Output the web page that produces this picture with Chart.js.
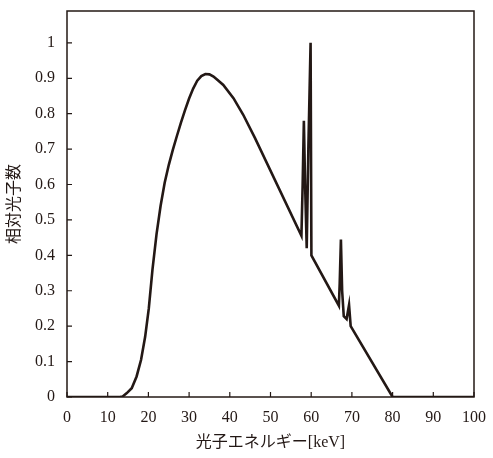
<!DOCTYPE html>
<html>
<head>
<meta charset="utf-8">
<script src="https://cdn.jsdelivr.net/npm/chart.js@4/dist/chart.umd.min.js"></script>
<style>
  html, body { margin: 0; padding: 0; background: #fff; }
  #wrap { width: 493px; height: 458px; }
</style>
</head>
<body>
<div id="wrap"><canvas id="spectrum"></canvas></div>
<script>
"use strict";

// photon energy [keV] and relative photon count
var energies = [0, 10, 13, 13.6, 14.7, 15.9, 17.1, 18.2, 19.2, 20.1, 21, 22, 23, 24, 25, 26, 27, 28, 29, 30, 31, 32, 33, 34, 35, 36, 37, 38.4, 40.9, 43.3, 46.2, 57.6,
    57.9, 58.2, 58.5, 58.9, 59.3, 59.85, 60.05, 66.8, 67.0, 67.3, 67.6, 68.0, 68.7, 69.3, 69.7, 80, 90, 100];
var counts = [0, 0, 0, 0.001, 0.011, 0.025, 0.058, 0.105, 0.17, 0.25, 0.36, 0.46, 0.54, 0.605, 0.655, 0.698, 0.737, 0.775, 0.81, 0.843, 0.871, 0.893, 0.906, 0.912, 0.911, 0.905, 0.895, 0.881, 0.844, 0.797, 0.731, 0.455,
    0.6, 0.78, 0.6, 0.42, 0.7, 1.0, 0.4, 0.258, 0.32, 0.445, 0.3, 0.228, 0.22, 0.26, 0.2, 0, 0, 0];

var xTicks = [0, 10, 20, 30, 40, 50, 60, 70, 80, 90, 100];
var yTicks = [0, 0.1, 0.2, 0.3, 0.4, 0.5, 0.6, 0.7, 0.8, 0.9, 1];
var yTickLabels = ["0", "0.1", "0.2", "0.3", "0.4", "0.5", "0.6", "0.7", "0.8", "0.9", "1"];

var ink = "#231815";
var fontFamily = "'Liberation Serif', 'Noto Sans CJK JP', serif";

var points = energies.map(function (e, i) {
    return { x: e, y: counts[i] };
});

// frame round the plot area and small ticks pointing inward
var frameTicks = {
    id: "frameTicks",
    afterDraw: function (chart) {
        var ctx = chart.ctx;
        var a = chart.chartArea;
        var xs = chart.scales.x;
        var ys = chart.scales.y;
        ctx.save();
        ctx.strokeStyle = ink;
        ctx.lineWidth = 1.5;
        ctx.strokeRect(a.left, a.top, a.right - a.left, a.bottom - a.top);
        ctx.beginPath();
        xs.ticks.forEach(function (t) {
            var px = xs.getPixelForValue(t.value);
            ctx.moveTo(px, a.bottom);
            ctx.lineTo(px, a.bottom - 5);
        });
        ys.ticks.forEach(function (t) {
            var py = ys.getPixelForValue(t.value);
            ctx.moveTo(a.left, py);
            ctx.lineTo(a.left + 5, py);
        });
        ctx.lineWidth = 1.2;
        ctx.stroke();
        ctx.restore();
    }
};

var ctx = document.getElementById("spectrum").getContext("2d");
var spectrumChart = new Chart(ctx, {
    type: "scatter",
    data: {
        datasets: [{
            label: "相対光子数",
            data: points,
            showLine: true,
            borderColor: ink,
            borderWidth: 2.6,
            pointRadius: 0,
            tension: 0,
            fill: false
        }]
    },
    options: {
        responsive: true,
        maintainAspectRatio: false,
        animation: false,
        layout: { padding: { top: 11, right: 19, left: 0, bottom: 0 } },
        plugins: {
            legend: { display: false },
            tooltip: { enabled: false }
        },
        scales: {
            x: {
                type: "linear",
                min: 0,
                max: 100,
                afterBuildTicks: function (scale) {
                    scale.ticks = xTicks.map(function (v) { return { value: v }; });
                },
                afterFit: function (scale) {
                    scale.height = 61;
                    scale.paddingLeft = 0;
                    scale.paddingRight = 0;
                },
                grid: { display: false, drawTicks: false },
                border: { display: false },
                ticks: {
                    padding: 11,
                    color: ink,
                    font: { family: fontFamily, size: 16 },
                    maxRotation: 0
                },
                title: {
                    display: true,
                    text: "光子エネルギー[keV]",
                    color: ink,
                    font: { family: fontFamily, size: 16 },
                    padding: { top: 0, bottom: 6 }
                }
            },
            y: {
                type: "linear",
                min: 0,
                max: 1.09,
                afterBuildTicks: function (scale) {
                    scale.ticks = yTicks.map(function (v) { return { value: v }; });
                },
                afterFit: function (scale) {
                    scale.width = 67;
                    scale.paddingTop = 0;
                    scale.paddingBottom = 0;
                },
                grid: { display: false, drawTicks: false },
                border: { display: false },
                ticks: {
                    padding: 12,
                    color: ink,
                    font: { family: fontFamily, size: 16 },
                    callback: function (value, index) { return yTickLabels[index]; }
                },
                title: {
                    display: true,
                    text: "相対光子数",
                    color: ink,
                    font: { family: fontFamily, size: 16 },
                    padding: { top: 5, bottom: 0 }
                }
            }
        }
    },
    plugins: [frameTicks]
});
</script>
</body>
</html>
